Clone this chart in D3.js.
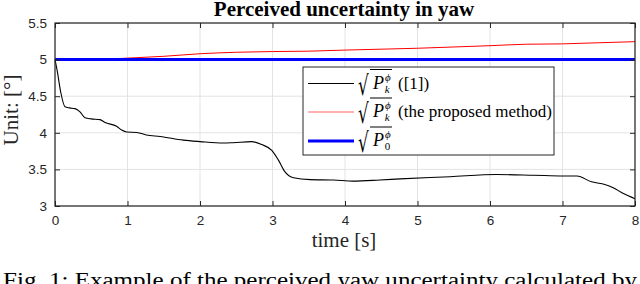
<!DOCTYPE html>
<html><head><meta charset="utf-8">
<script src="https://cdn.jsdelivr.net/npm/d3@7"></script>
<style>body{margin:0;background:#fff}svg{display:block}</style>
</head><body>
<svg id="c" width="640" height="284"></svg>
<script>
// ---- data ----
const xTicks = [0,1,2,3,4,5,6,7,8];
const yTicks = [3,3.5,4,4.5,5,5.5];
const yTickLabels = ["3","3.5","4","4.5","5","5.5"];
const blackT = [0,0.03,0.08,0.138,0.2,0.276,0.345,0.414,0.5,0.62,0.69,0.85,0.92,0.99,1.13,1.26,1.45,1.77,2.0,2.32,2.46,2.71,2.85,2.99,3.08,3.17,3.29,3.52,3.84,4.11,4.48,4.76,5.45,6.09,6.6,7.01,7.2,7.4,7.56,7.7,7.84,8.0];
const blackV = [5,4.85,4.55,4.355,4.34,4.33,4.287,4.205,4.19,4.18,4.14,4.09,4.037,4.01,4.005,3.97,3.95,3.90,3.88,3.86,3.865,3.88,3.84,3.76,3.63,3.47,3.385,3.36,3.355,3.34,3.355,3.37,3.40,3.43,3.42,3.41,3.41,3.33,3.30,3.25,3.17,3.10];
const redT = [0,0.5,1,1.5,2,2.5,3,3.5,4,5,6,6.5,7,7.5,8];
const redV = [5,5.0,5.02,5.045,5.08,5.1,5.11,5.115,5.13,5.155,5.19,5.21,5.215,5.23,5.245];
const blueT = [0,8];
const blueV = [5,5];
const title = "Perceived uncertainty in yaw";
const xLabel = "time [s]";
const yLabel = "Unit: [°]";
const caption = "Fig. 1: Example of the perceived yaw uncertainty calculated by";
const legendSuffix = ["([1])","(the proposed method)",""];
const legendSub = ["k","k","0"];
const legendColors = ["#000000","#ff0000","#0000ff"];
const legendWidths = [1.1,1,3];

// ---- layout ----
const svg = d3.select("#c");
const L=55,R=635,T=23,B=206;
const x = d3.scaleLinear().domain([0,8]).range([L,R]);
const y = d3.scaleLinear().domain([3,5.5]).range([B,T]);
const axisCol="#262626";

// grid
const g = svg.append("g");
g.selectAll("line.gx").data(xTicks).join("line")
 .attr("x1",d=>x(d)).attr("x2",d=>x(d)).attr("y1",T).attr("y2",B)
 .attr("stroke","#e3e3e3").attr("stroke-width",1);
g.selectAll("line.gy").data(yTicks).join("line")
 .attr("y1",d=>y(d)).attr("y2",d=>y(d)).attr("x1",L).attr("x2",R)
 .attr("stroke","#e3e3e3").attr("stroke-width",1);

// lines
const line = (ts,vs)=>d3.line().x((d,i)=>x(ts[i])).y((d,i)=>y(vs[i])).curve(d3.curveMonotoneX)(ts);
svg.append("path").attr("d",line(redT,redV)).attr("fill","none").attr("stroke","#ff0000").attr("stroke-width",1);
svg.append("path").attr("d",line(blueT,blueV)).attr("fill","none").attr("stroke","#0000ff").attr("stroke-width",3);
svg.append("path").attr("d",line(blackT,blackV)).attr("fill","none").attr("stroke","#000").attr("stroke-width",1.1);

// axes
const fontSans = "'Liberation Sans', Arial, sans-serif";
const fontSerif = "'Liberation Serif', 'Times New Roman', serif";
const xa = svg.append("g").attr("transform",`translate(0,${B})`)
 .call(d3.axisBottom(x).tickValues(xTicks).tickSize(-5).tickPadding(9).tickFormat(d3.format("d")));
const xt = svg.append("g").attr("transform",`translate(0,${T})`)
 .call(d3.axisTop(x).tickValues(xTicks).tickSize(-5).tickFormat(""));
const ya = svg.append("g").attr("transform",`translate(${L},0)`)
 .call(d3.axisLeft(y).tickValues(yTicks).tickSize(-5).tickPadding(8).tickFormat((d,i)=>yTickLabels[i]));
const yr = svg.append("g").attr("transform",`translate(${R},0)`)
 .call(d3.axisRight(y).tickValues(yTicks).tickSize(-5).tickFormat(""));
[xa,xt,ya,yr].forEach(a=>{
  a.selectAll(".tick line").attr("stroke",axisCol).attr("stroke-width",1);
  a.selectAll("text").attr("fill",axisCol).style("font-family",fontSans).style("font-size","13.5px");
  a.select("path.domain").remove();
});
svg.append("rect").attr("x",L).attr("y",T).attr("width",R-L).attr("height",B-T)
 .attr("fill","none").attr("stroke",axisCol).attr("stroke-width",1.2);

// legend
const lg = svg.append("g");
const lx=303, ly=67, lw=251, lh=88;
lg.append("rect").attr("x",lx).attr("y",ly).attr("width",lw).attr("height",lh)
 .attr("fill","#fff").attr("stroke",axisCol).attr("stroke-width",1);
const rows=[83.5,112,141];
legendColors.forEach((c,i)=>{
  const ry=rows[i];
  lg.append("line").attr("x1",lx+5).attr("x2",lx+51).attr("y1",ry).attr("y2",ry)
    .attr("stroke",c).attr("stroke-width",legendWidths[i]).attr("opacity",i===1?0.6:1);
  // radical (narrowed so it does not run over the P)
  lg.append("text").attr("transform",`translate(${lx+55},${ry+11}) scale(0.62,1)`).text("√")
    .style("font-family","'DejaVu Serif', serif").style("font-size","27px").attr("fill","#000");
  lg.append("line").attr("x1",lx+67).attr("x2",lx+89).attr("y1",ry-14).attr("y2",ry-14)
    .attr("stroke","#000").attr("stroke-width",1);
  const t = lg.append("text").attr("x",lx+70).attr("y",ry+5)
    .style("font-family",fontSerif).style("font-size","18px").attr("fill","#000");
  t.append("tspan").text("P").style("font-style","italic");
  t.append("tspan").attr("dy",-8).attr("dx",1).text("ϕ").style("font-size","11px").style("font-style","italic");
  t.append("tspan").attr("dx",-6).attr("dy",12).text(legendSub[i]).style("font-size","11px").style("font-style", i<2?"italic":"normal");
  if(legendSuffix[i]) lg.append("text").attr("x",lx+95).attr("y",ry+5).text(legendSuffix[i])
    .style("font-family",fontSerif).style("font-size","17px").attr("fill","#000");
});

// titles
svg.append("text").attr("x",344).attr("y",16).attr("text-anchor","middle").text(title)
 .style("font-family",fontSerif).style("font-weight","bold").style("font-size","21px").attr("fill","#000");
svg.append("text").attr("x",344).attr("y",247).attr("text-anchor","middle").text(xLabel)
 .style("font-family",fontSerif).style("font-size","21px").attr("fill","#262626");
svg.append("text").attr("transform","translate(18,110) rotate(-90)").attr("text-anchor","middle").text(yLabel)
 .style("font-family",fontSerif).style("font-size","21px").attr("fill","#262626");
svg.append("text").attr("x",3).attr("y",287).text(caption).attr("textLength",634).attr("lengthAdjust","spacingAndGlyphs")
 .style("font-family",fontSerif).style("font-size","20px").attr("fill","#000");
</script>
</body></html>
